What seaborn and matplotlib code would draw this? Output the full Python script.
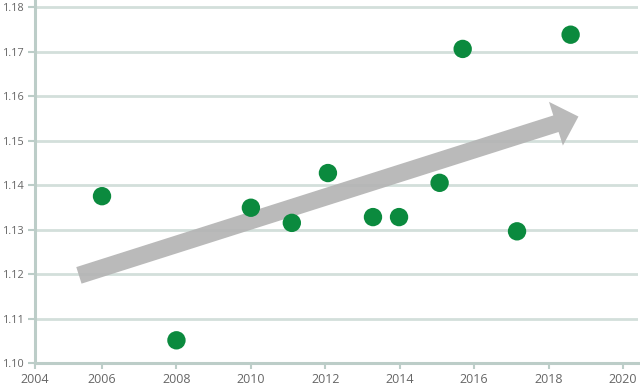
import matplotlib
matplotlib.use("Agg")
import matplotlib.pyplot as plt
import seaborn as sns
import pandas as pd

# values
years = [2006.0, 2008.0, 2010.0, 2011.1, 2012.07, 2013.28, 2013.98, 2015.07, 2015.69, 2017.15, 2018.59]
values = [1.1375, 1.1051, 1.1349, 1.1315, 1.1427, 1.1328, 1.1328, 1.1405, 1.1706, 1.1296, 1.1738]

x_ticks = [2004, 2006, 2008, 2010, 2012, 2014, 2016, 2018, 2020]
y_ticks = [1.10, 1.11, 1.12, 1.13, 1.14, 1.15, 1.16, 1.17, 1.18]

# trend arrow (tail, tip) in data units
trend_tail = (2005.38, 1.1197)
trend_tip = (2018.80, 1.1554)

df = pd.DataFrame({"year": years, "value": values})

sns.set_theme(style="white")
plt.rcParams["font.family"] = ["Open Sans", "DejaVu Sans"]

fig = plt.figure(figsize=(6.4, 3.88), dpi=100)
ax = fig.add_axes([35 / 640, 25 / 388, 603 / 640, 363 / 388])

grid_col = "#d3dfdb"
axis_col = "#bccdc8"

# gridlines
for y in y_ticks:
    ax.axhline(y, color=grid_col, linewidth=2, zorder=0)

# trend arrow
ax.annotate("", xy=trend_tip, xytext=trend_tail,
            arrowprops=dict(arrowstyle="simple,head_length=17,head_width=33,tail_width=12.5",
                            mutation_scale=1, color="#b4b4b4", alpha=0.92,
                            shrinkA=0, shrinkB=0, linewidth=0),
            zorder=2)

sns.scatterplot(data=df, x="year", y="value", ax=ax, s=175, color="#0b8a3e",
                edgecolor="none", zorder=3, legend=False)

ax.set_xlim(2004.2, 2020.4)
ax.set_ylim(1.10, 1.1816)

# the left edge of the axis carries the 2004 label
ax.set_xticks([max(t, 2004.2) for t in x_ticks])
ax.set_xticklabels([str(t) for t in x_ticks])
ax.set_yticks(y_ticks)
ax.set_yticklabels([f"{t:.2f}" for t in y_ticks])

ax.set_xlabel("")
ax.set_ylabel("")

for side in ["top", "right"]:
    ax.spines[side].set_visible(False)
for side in ["left", "bottom"]:
    ax.spines[side].set_color(axis_col)
    ax.spines[side].set_linewidth(2.2)

ax.tick_params(axis="x", bottom=True, direction="out", width=1.5, length=4, pad=3,
               color=axis_col, labelcolor="#666666", labelsize=9)
ax.tick_params(axis="y", left=True, direction="out", width=1.5, length=5, pad=2.5,
               color=axis_col, labelcolor="#666666", labelsize=7.8)

fig.savefig("out.png", dpi=100)
